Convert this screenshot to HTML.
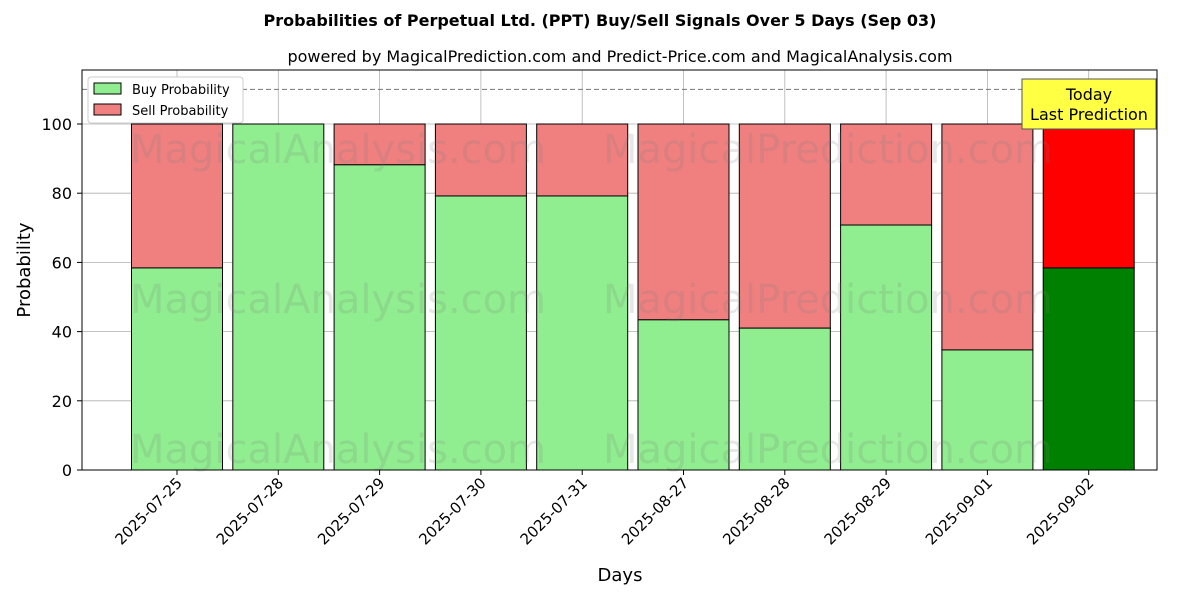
<!DOCTYPE html>
<html><head><meta charset="utf-8"><style>
body{margin:0;background:#fff;font-family:"Liberation Sans","DejaVu Sans",sans-serif}
</style></head><body>
<svg width="1200" height="600" xmlns="http://www.w3.org/2000/svg" font-family="DejaVu Sans, Liberation Sans, sans-serif">
<text x="600" y="26" text-anchor="middle" font-size="16" font-weight="bold">Probabilities of Perpetual Ltd. (PPT) Buy/Sell Signals Over 5 Days (Sep 03)</text>
<text x="620" y="62" text-anchor="middle" font-size="16">powered by MagicalPrediction.com and Predict-Price.com and MagicalAnalysis.com</text>
<g id="grid"></g>
<g id="bars"></g>
<g font-size="40" fill="rgba(120,120,120,0.18)">
<text x="130" y="163">MagicalAnalysis.com</text><text x="603" y="163">MagicalPrediction.com</text>
<text x="130" y="313">MagicalAnalysis.com</text><text x="603" y="313">MagicalPrediction.com</text>
<text x="130" y="463">MagicalAnalysis.com</text><text x="603" y="463">MagicalPrediction.com</text>
</g>
<line x1="82" x2="1157" y1="89.4" y2="89.4" stroke="#777" stroke-dasharray="5,3"/>
<rect x="82" y="70" width="1075" height="400" fill="none" stroke="#000"/>
<g id="ticks"></g>
<text x="30" y="270" text-anchor="middle" font-size="18" transform="rotate(-90 30 270)">Probability</text>
<text x="620" y="581" text-anchor="middle" font-size="18">Days</text>
<g>
<rect x="88" y="77" width="155" height="46" fill="#fff" stroke="#ccc" rx="3"/>
<rect x="94" y="83" width="27" height="11" fill="#90ee90" stroke="#000"/>
<text x="132" y="94" font-size="13">Buy Probability</text>
<rect x="94" y="104" width="27" height="11" fill="#f08080" stroke="#000"/>
<text x="132" y="115" font-size="13">Sell Probability</text>
</g>
<g>
<rect x="1022" y="79" width="134" height="50" fill="#ffff44" stroke="#555"/>
<text x="1089" y="100" text-anchor="middle" font-size="16">Today</text>
<text x="1089" y="120" text-anchor="middle" font-size="16">Last Prediction</text>
</g>
</svg>
<script>
const categories=["2025-07-25","2025-07-28","2025-07-29","2025-07-30","2025-07-31","2025-08-27","2025-08-28","2025-08-29","2025-09-01","2025-09-02"];
const buyValues=[58.4,100,88.2,79.2,79.2,43.4,41.0,70.8,34.7,58.4];
const yTicks=[0,20,40,60,80,100];
const NS="http://www.w3.org/2000/svg";
const x0=177,step=101.3,bw=91;
const xs=i=>x0+i*step;
const ys=v=>470-v*3.46;
function mk(t,a,p){const e=document.createElementNS(NS,t);for(const k in a)e.setAttribute(k,a[k]);p.appendChild(e);return e;}
const grid=document.getElementById('grid'),bars=document.getElementById('bars'),ticks=document.getElementById('ticks');
yTicks.forEach(v=>{
 const g=mk('line',{x1:82,x2:1157,y1:ys(v),y2:ys(v),stroke:'#b0b0b0','stroke-width':0.8},grid);
 
 
 mk('line',{x1:77,x2:82,y1:ys(v),y2:ys(v),stroke:'#000'},ticks);
 const t=mk('text',{x:72,y:ys(v)+6,'text-anchor':'end','font-size':16},ticks);t.textContent=v;
 
 
});
categories.forEach((c,i)=>{
 const x=xs(i),last=i===categories.length-1;
 const g=mk('line',{x1:x,x2:x,y1:70,y2:470,stroke:'#b0b0b0','stroke-width':0.8},grid);
 
 
 const s=mk('rect',{x:x-bw/2,y:ys(100),width:bw,height:ys(buyValues[i])-ys(100),fill:last?'#ff0000':'#f08080',stroke:'#000'},bars);
 
 
 const b=mk('rect',{x:x-bw/2,y:ys(buyValues[i]),width:bw,height:470-ys(buyValues[i]),fill:last?'#008000':'#90ee90',stroke:'#000'},bars);
 
 
 mk('line',{x1:x,x2:x,y1:470,y2:475,stroke:'#000'},ticks);
 const t=mk('text',{x:x+6,y:484,'text-anchor':'end','font-size':15,transform:`rotate(-45 ${x+6} 484)`},ticks);t.textContent=c;
 
 
});
</script>
</body></html>
